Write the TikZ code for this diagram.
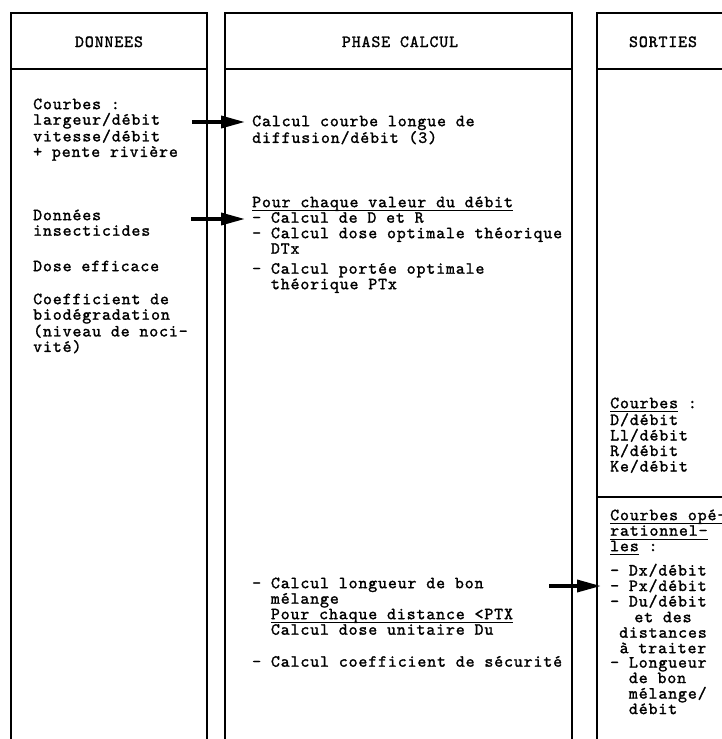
\documentclass[tikz,border=0pt]{standalone}
\usepackage{fontspec}
\setmonofont{lmmono10-regular.otf}[LetterSpace=5.3,FakeBold=1.5]
\usetikzlibrary{arrows.meta}
\newcommand\myul[1]{\setbox0\hbox{#1}\rlap{\rule[-4pt]{\wd0}{0.9pt}}\box0\relax}
\newcommand\fl{\rule{0pt}{12pt}}
\newcommand\flb{\rule{0pt}{10pt}}
\tikzset{
  txt/.style={anchor=north west, inner sep=0pt, align=left, font=\ttfamily\fontsize{17}{15.5}\selectfont},
  txtc/.style={anchor=north, inner sep=0pt, align=center, font=\ttfamily\fontsize{17}{15.5}\selectfont},
  hdr/.style={anchor=base, inner sep=0pt, font=\ttfamily\fontsize{17}{15.5}\selectfont},
  frame/.style={line width=1.6pt},
  arr/.style={line width=3.5pt, -{Triangle[length=24pt,width=12pt]}},
}
\begin{document}
\begin{tikzpicture}[x=1pt,y=-1pt]
\useasboundingbox (0,0) rectangle (722,739);
% frames
\draw[frame] (11,739) -- (11,13) -- (207,13) -- (207,739);
\draw[frame] (11,69) -- (207,69);
\draw[frame] (225,739) -- (225,13) -- (572,13) -- (572,739);
\draw[frame] (225,69) -- (572,69);
\draw[frame] (597,739) -- (597,13) -- (722,13);
\draw[frame] (597,69) -- (722,69);
\draw[frame] (597,497) -- (722,497);
% headers
\node[hdr] (hd) at (109,47) {DONNEES};
\node[hdr] (hp) at (400,47) {PHASE CALCUL};
\node[hdr] (hs) at (663,47) {SORTIES};
% left column
\node[txt] (l1) at (33,97) {\fl Courbes :\\largeur/débit\\vitesse/débit\\+ pente rivière};
\node[txt] (l2) at (33,208) {\fl Données\\insecticides};
\node[txt] (l3) at (33,259) {\fl Dose efficace};
\node[txt] (l4) at (33,292) {\fl Coefficient de\\biodégradation\\(niveau de noci-\\vité)};
% middle column
\node[txt] (m1) at (252,114) {\fl Calcul courbe longue de\\diffusion/débit (3)};
\node[txt] (m2) at (252,195) {\fl\myul{Pour chaque valeur du débit}\\- Calcul de D et R\\- Calcul dose optimale théorique\\\hphantom{xx}DTx\\[4.5pt]- Calcul portée optimale\\\hphantom{xx}théorique PTx};
\node[txt] (m3) at (252,576) {\fl - Calcul longueur de bon\\\hphantom{xx}mélange\\\hphantom{xx}\myul{Pour chaque distance <PTX}\\\hphantom{xx}Calcul dose unitaire Du\\[16.5pt]- Calcul coefficient de sécurité};
% right column
\node[txt] (r1) at (610,396) {\fl\myul{Courbes} :\\D/débit\\Ll/débit\\R/débit\\Ke/débit};
\node[txt] (r2) at (610,508) {\fl\myul{Courbes opé-}\\\myul{rationnel-}\\\myul{les} :\\[7.5pt]- Dx/débit\\- Px/débit\\- Du/débit};
\node[txtc] (r3) at (663,610) {\fl et des\\distances\\à traiter};
\node[txt] (r6) at (610,657) {\flb - Longueur\\\hphantom{xx}de bon\\\hphantom{xx}mélange/\\\hphantom{xx}débit};
% arrows
\coordinate (a1) at (192,122);
\coordinate (a2) at (191,219);
\coordinate (a3) at (549,586);
\draw[arr] (a1) -- ([xshift=-7pt]m1.west |- a1);
\draw[arr] (a2) -- ([xshift=-7pt]m2.west |- a2);
\draw[arr] (a3) -- ([xshift=-9pt]r2.west |- a3);
\end{tikzpicture}
\end{document}
